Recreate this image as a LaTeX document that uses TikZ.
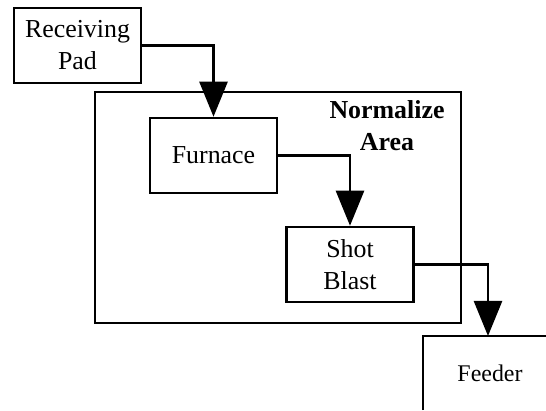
\documentclass[tikz,border=0pt]{standalone}
\usepackage{fontspec}
\setmainfont{Liberation Serif}
\usetikzlibrary{arrows.meta}
\tikzset{
  procbox/.style={draw=black, line width=1.8pt, minimum width=3.175cm, minimum height=1.875cm, align=center, inner sep=0pt, font=\fontsize{18.4}{22.8}\selectfont},
  areabox/.style={draw=black, line width=0.8pt},
  arealabel/.style={align=center, inner sep=0pt, font=\fontsize{18.4}{22.8}\selectfont\bfseries},
  flowline/.style={line width=1.8pt, draw=black, -{Triangle[width=20pt,length=25pt]}},
  openedge/.style={line width=1.8pt, draw=black, line cap=butt},
}
\begin{document}
\begin{tikzpicture}[x=0.025cm,y=-0.025cm]
\useasboundingbox (0,0) rectangle (546,410);
% normalize area
\draw[areabox] (95,92) rectangle (461,323);
\node[arealabel] (normlbl) at (387,126) {Normalize\\Area};
% process boxes
\node[procbox] (rcv) at (77.5,45.5) {Receiving\\Pad};
\node[procbox] (furn) at (213.5,155.5) {Furnace};
\node[procbox] (shot) at (350,264.5) {Shot\\Blast};
% feeder, open to the lower right
\coordinate (feedcorner) at (423,336);
\coordinate (feedtop) at (488,336);
\draw[openedge] (423,410) -- (feedcorner) -- (546,336);
\node[font=\fontsize{17}{21}\selectfont, inner sep=0pt] (feed) at (490,373) {Feeder};
% flow
\draw[flowline] (rcv.east) -| (furn.north);
\draw[flowline] (furn.east) -| (shot.north);
\draw[flowline] (shot.east) -| (feedtop);
\end{tikzpicture}
\end{document}
